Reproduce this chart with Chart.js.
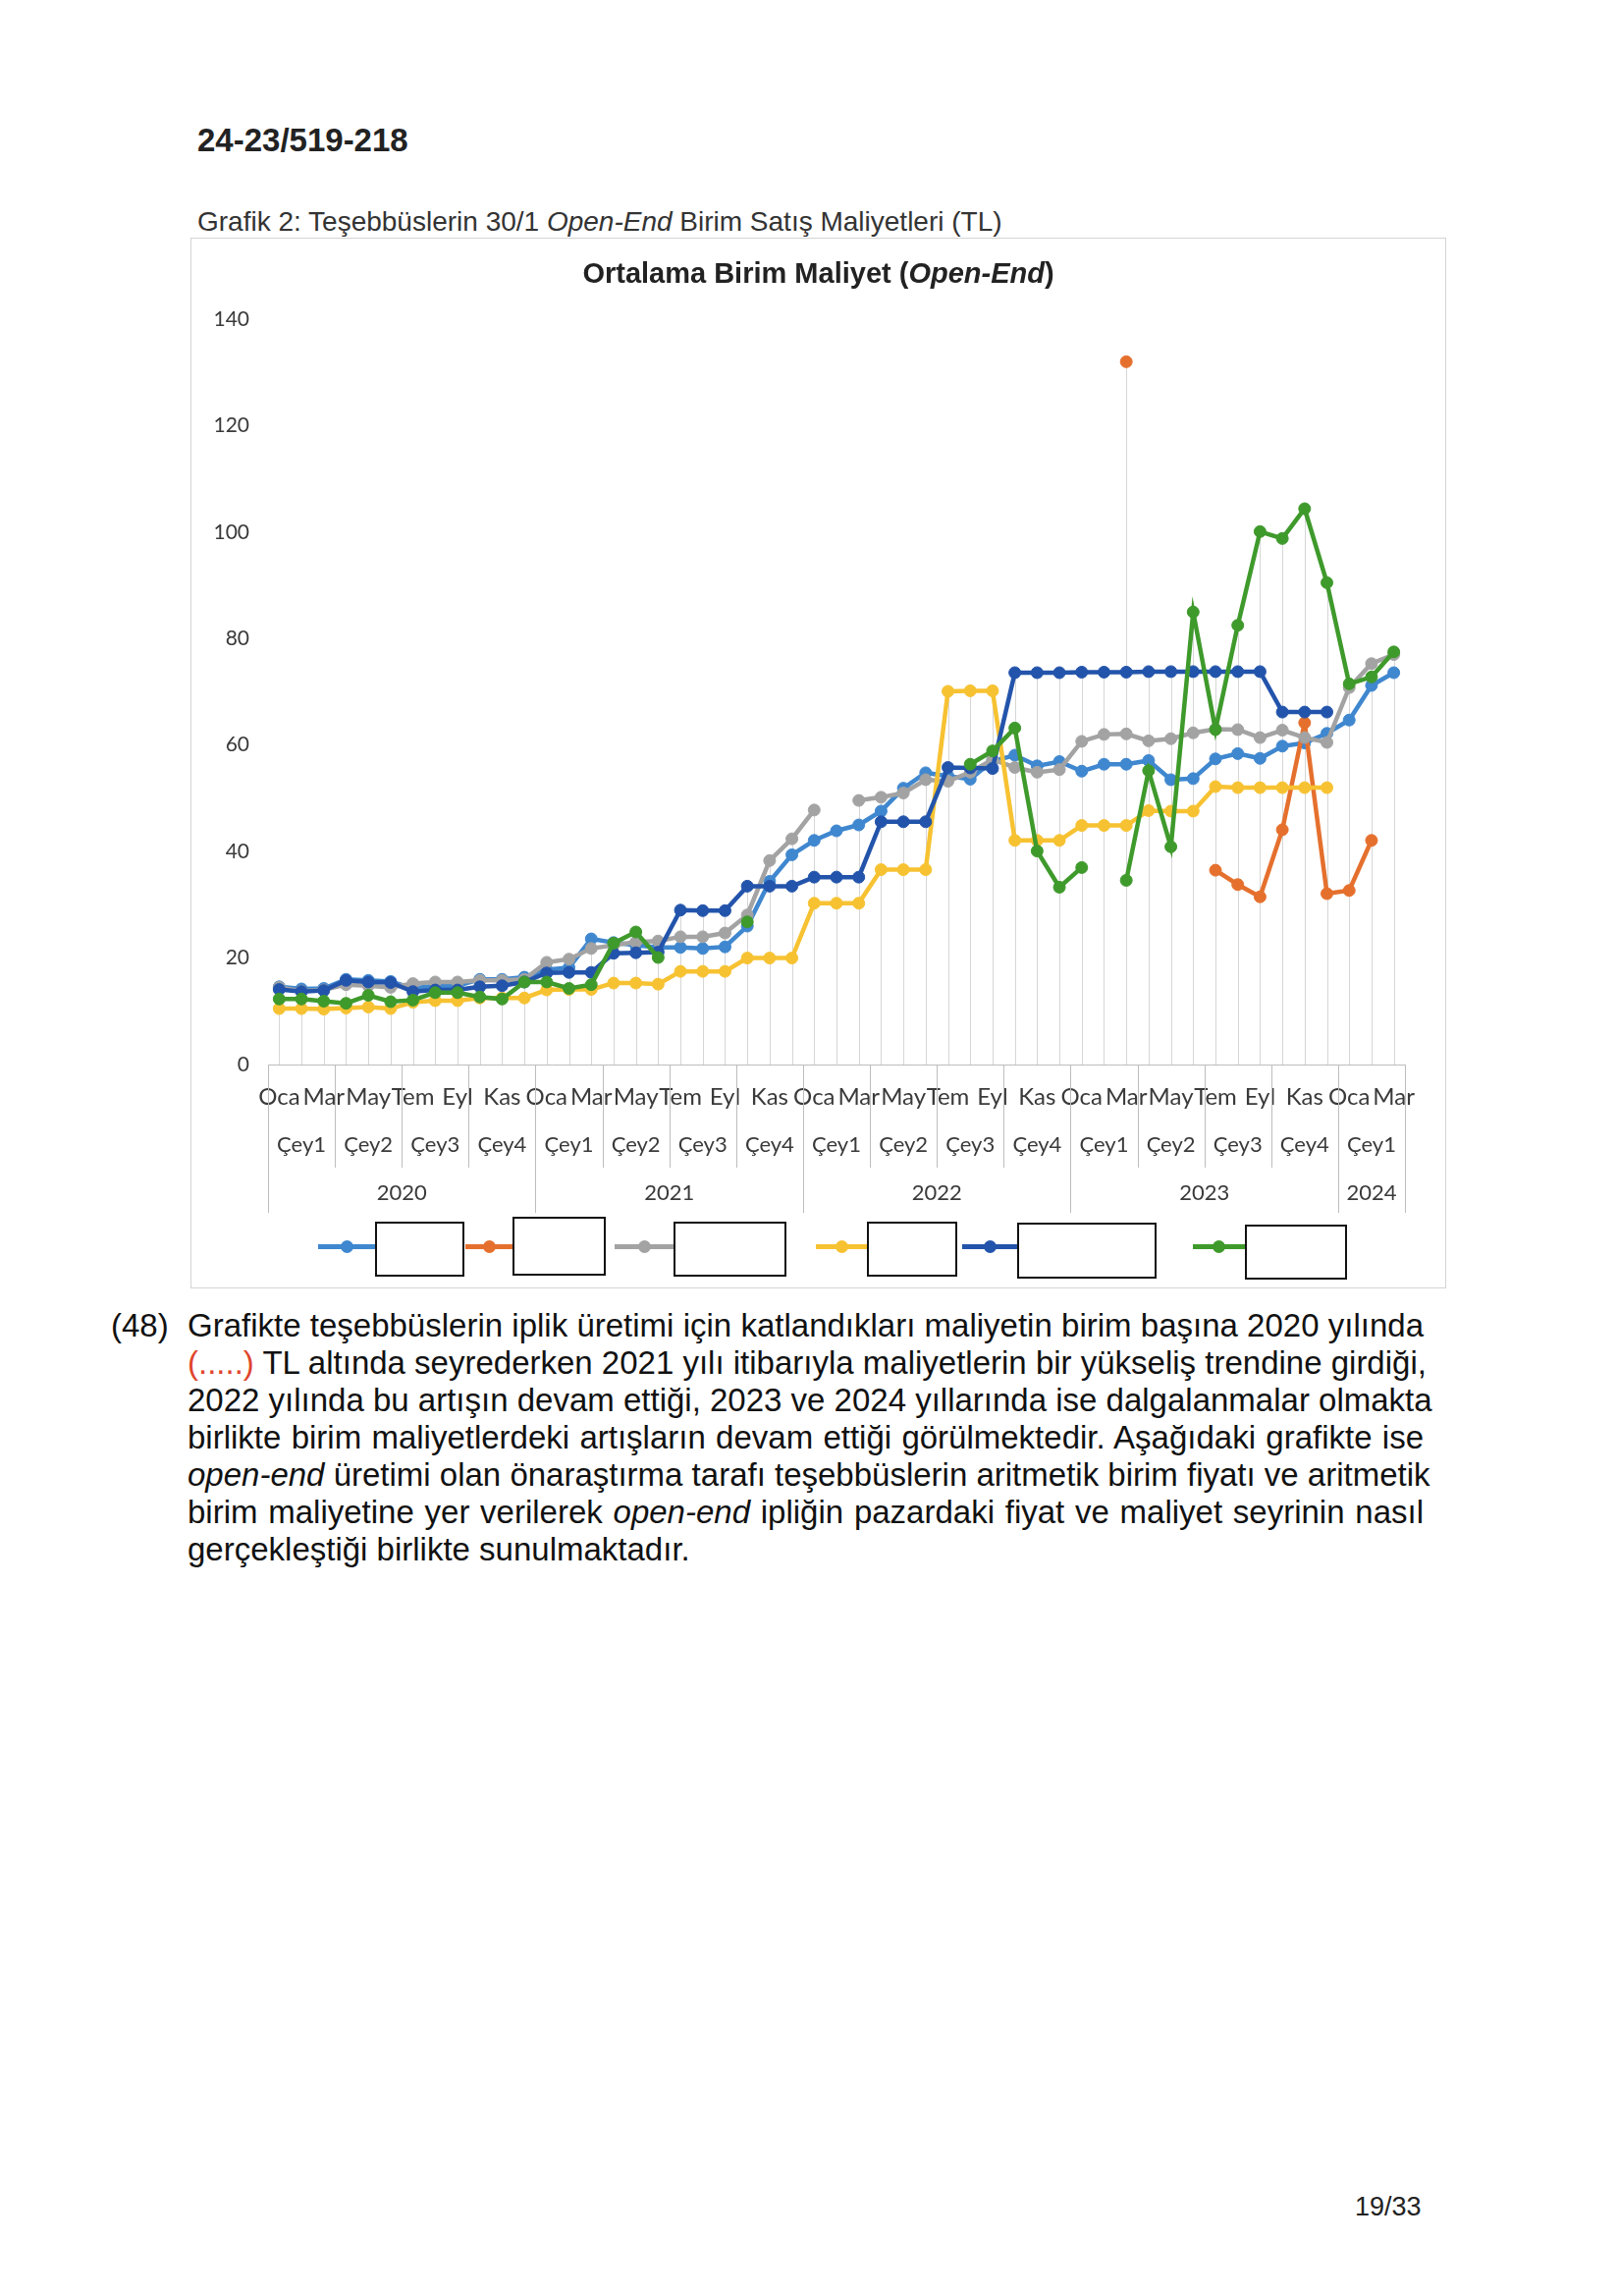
<!DOCTYPE html>
<html lang="tr">
<head>
<meta charset="utf-8">
<title>Ortalama Birim Maliyet (Open-End)</title>
<script src="https://cdn.jsdelivr.net/npm/chart.js@4.4.1/dist/chart.umd.min.js"></script>
<style>
    html, body { margin: 0; padding: 0; background: #fff; }
    body {
        width: 1648px; height: 2338px; position: relative; overflow: hidden;
        font-family: "Liberation Sans", Arial, sans-serif; color: #1a1a1a;
    }
    #docNo { position: absolute; left: 201px; top: 124px; font-size: 33px; font-weight: bold; color: #222; }
    #caption { position: absolute; left: 201px; top: 210px; font-size: 28px; color: #333; }
    #chartFrame {
        position: absolute; left: 194px; top: 242px; width: 1279px; height: 1070px;
        border: 1px solid #d4d4d4; box-sizing: border-box; pointer-events: none;
    }
    #chart { position: absolute; left: 194px; top: 242px; }
    #chartTitle {
        position: absolute; left: 194px; top: 262px; width: 1279px; text-align: center;
        font-size: 29px; font-weight: bold; color: #222;
    }
    .lg-line { position: absolute; height: 5px; }
    .lg-dot { position: absolute; width: 13px; height: 13px; border-radius: 50%; }
    .lg-box { position: absolute; border: 2px solid #111; background: #fff; box-sizing: border-box; }
    #para { position: absolute; left: 191px; top: 1331px; width: 1259px; font-size: 33px; line-height: 38px; color: #111; }
    #para div { white-space: nowrap; text-align: justify; text-align-last: justify; }
    #para div.last { text-align-last: left; }
    #paraNo { position: absolute; left: 113px; top: 1331px; font-size: 33px; line-height: 38px; color: #111; }
    .red { color: #e0452c; }
    #pageNo { position: absolute; left: 1380px; top: 2232px; font-size: 27px; color: #222; }
</style>
</head>
<body>
<div id="docNo">24-23/519-218</div>
<div id="caption">Grafik 2: Teşebbüslerin 30/1 <i>Open-End</i> Birim Satış Maliyetleri (TL)</div>
<canvas id="chart" width="1279" height="1070"></canvas>
<div id="chartFrame"></div>
<div id="chartTitle">Ortalama Birim Maliyet (<i>Open-End</i>)</div>
<div id="legend"></div>

<div id="paraNo">(48)</div>
<div id="para">
    <div>Grafikte teşebbüslerin iplik üretimi için katlandıkları maliyetin birim başına 2020 yılında</div>
    <div><span class="red">(.....)</span> TL altında seyrederken 2021 yılı itibarıyla maliyetlerin bir yükseliş trendine girdiği,</div>
    <div>2022 yılında bu artışın devam ettiği, 2023 ve 2024 yıllarında ise dalgalanmalar olmakta</div>
    <div>birlikte birim maliyetlerdeki artışların devam ettiği görülmektedir. Aşağıdaki grafikte ise</div>
    <div><i>open-end</i> üretimi olan önaraştırma tarafı teşebbüslerin aritmetik birim fiyatı ve aritmetik</div>
    <div>birim maliyetine yer verilerek <i>open-end</i> ipliğin pazardaki fiyat ve maliyet seyrinin nasıl</div>
    <div class="last">gerçekleştiği birlikte sunulmaktadır.</div>
</div>
<div id="pageNo">19/33</div>

<script>
// Categories: Ocak 2020 - Mart 2024
const monthNames = ['Oca', 'Şub', 'Mar', 'Nis', 'May', 'Haz', 'Tem', 'Ağu', 'Eyl', 'Eki', 'Kas', 'Ara'];
const quarterNames = ['Çey1', 'Çey2', 'Çey3', 'Çey4'];
const yearNames = ['2020', '2021', '2022', '2023', '2024'];
const monthCount = 51;

const yTicks = { min: 0, max: 140, step: 20 };

// Series (names are blanked out in the source legend)
const seriesNames = ['Teşebbüs 1', 'Teşebbüs 2', 'Teşebbüs 3', 'Teşebbüs 4', 'Teşebbüs 5', 'Teşebbüs 6'];

const series1 = [
    14.6, 14.2, 14.3, 16.0, 15.8, 15.6, 14.3, 14.8, 14.8, 16.0, 16.0, 16.4,
    17.8, 18.2, 23.6, 22.9, 22.4, 22.0, 22.0, 21.8, 22.1, 26.0, 34.4, 39.4,
    42.1, 43.9, 45.0, 47.6, 51.9, 54.8, 54.2, 53.6, 57.0, 58.1, 56.1, 56.9,
    55.1, 56.4, 56.4, 57.1, 53.5, 53.7, 57.4, 58.4, 57.5, 59.8, 60.4, 62.2,
    64.7, 71.2, 73.6
];
const series2 = [
    null, null, null, null, null, null, null, null, null, null, null, null,
    null, null, null, null, null, null, null, null, null, null, null, null,
    null, null, null, null, null, null, null, null, null, null, null, null,
    null, null, 132.0, null, null, null, 36.5, 33.8, 31.5, 44.1, 64.2, 32.1,
    32.7, 42.1, null
];
const series3 = [
    14.5, 13.8, 14.0, 15.0, 14.8, 14.5, 15.2, 15.5, 15.5, 15.8, 15.8, 16.0,
    19.2, 19.8, 21.8, 22.4, 23.0, 23.2, 24.0, 24.0, 24.7, 28.1, 38.3, 42.4,
    47.8, null, 49.6, 50.2, 51.0, 53.5, 53.2, 54.9, 57.3, 55.8, 54.9, 55.4,
    60.7, 62.0, 62.1, 60.8, 61.2, 62.3, 63.0, 62.9, 61.4, 62.8, 61.4, 60.5,
    70.8, 75.3, 77.0
];
const series4 = [
    10.5, 10.5, 10.4, 10.6, 10.8, 10.5, 11.7, 12.0, 12.0, 12.5, 12.5, 12.5,
    14.0, 14.1, 14.1, 15.3, 15.3, 15.1, 17.5, 17.5, 17.5, 20.0, 20.0, 20.0,
    30.3, 30.3, 30.3, 36.6, 36.6, 36.6, 70.1, 70.2, 70.2, 42.1, 42.1, 42.1,
    44.9, 44.9, 44.9, 47.7, 47.6, 47.6, 52.2, 52.0, 52.0, 52.0, 52.0, 52.0,
    null, null, null
];
const series5 = [
    14.1, 13.7, 13.9, 15.8, 15.5, 15.4, 13.7, 14.0, 14.0, 14.6, 14.8, 15.5,
    17.2, 17.3, 17.3, 20.9, 21.0, 21.1, 29.0, 28.9, 28.9, 33.5, 33.5, 33.5,
    35.2, 35.2, 35.2, 45.6, 45.6, 45.6, 55.8, 55.7, 55.6, 73.6, 73.6, 73.6,
    73.7, 73.7, 73.7, 73.8, 73.8, 73.8, 73.8, 73.8, 73.8, 66.2, 66.2, 66.2,
    null, null, null
];
const series6 = [
    12.3, 12.3, 11.9, 11.5, 13.0, 11.8, 12.1, 13.5, 13.5, 12.7, 12.3, 15.5,
    15.5, 14.3, 15.0, 22.8, 24.9, 20.1, null, null, null, 26.8, null, null,
    null, null, null, null, null, null, null, 56.4, 58.9, 63.2, 40.1, 33.3,
    37.0, null, 34.6, 55.2, 40.9, 85.0, 62.9, 82.5, 100.1, 98.8, 104.4, 90.5,
    71.5, 72.8, 77.5
];

const seriesColors = ['#3f87cf', '#e5702e', '#a3a3a3', '#f7c232', '#2354ab', '#3f9a2c'];

// legend geometry (page pixels): line start, line end, box left, box width, box top, box height
const legendLayout = [
    [324, 382, 382, 91, 1244, 56],
    [474, 522, 522, 95, 1239, 60],
    [626, 686, 686, 115, 1244, 56],
    [831, 883, 883, 92, 1244, 56],
    [980, 1036, 1036, 142, 1245, 57],
    [1215, 1268, 1268, 104, 1247, 56]
];
const legendY = 1269;

const labels = [];
for (let i = 0; i < monthCount; i++) {
    labels.push(monthNames[i % 12]);
}
const allSeries = [series1, series2, series3, series4, series5, series6];

/**
 * Excel style drop lines: from the highest point of each category down to the axis
 */
const dropLines = {
    id: 'dropLines',
    beforeDatasetsDraw(chart) {
        const { ctx, scales: { x, y } } = chart;
        ctx.save();
        ctx.strokeStyle = '#d6d6d6';
        ctx.lineWidth = 1;
        for (let i = 0; i < labels.length; i++) {
            const vals = chart.data.datasets.map(ds => ds.data[i]).filter(v => v !== null);
            if (!vals.length) continue;
            const px = Math.round(x.getPixelForValue(i)) + 0.5;
            ctx.beginPath();
            ctx.moveTo(px, y.getPixelForValue(Math.max(...vals)));
            ctx.lineTo(px, y.getPixelForValue(0));
            ctx.stroke();
        }
        ctx.restore();
    }
};

/**
 * Quarter and year rows of the multi level category axis
 */
const groupAxis = {
    id: 'groupAxis',
    afterDraw(chart) {
        const { ctx, scales: { x }, chartArea } = chart;
        const top = chartArea.bottom;
        const n = labels.length;
        const quarterCount = Math.ceil(n / 3);
        ctx.save();
        ctx.strokeStyle = '#bdbdbd';
        ctx.lineWidth = 1;
        for (let q = 0; q <= quarterCount; q++) {
            const start = Math.min(q * 3, n);
            const isYear = start % 12 === 0 || start === n;
            const px = Math.round(x.getPixelForValue(start - 0.5)) + 0.5;
            ctx.beginPath();
            ctx.moveTo(px, top);
            ctx.lineTo(px, top + (isYear ? 151 : 105));
            ctx.stroke();
        }
        ctx.fillStyle = '#3a3a3a';
        ctx.font = '22px Lato';
        ctx.textAlign = 'center';
        ctx.textBaseline = 'middle';
        for (let q = 0; q < quarterCount; q++) {
            const first = q * 3;
            const last = Math.min(first + 2, n - 1);
            ctx.fillText(quarterNames[q % 4], x.getPixelForValue((first + last) / 2), top + 82);
        }
        yearNames.forEach((yr, k) => {
            const first = k * 12;
            const last = Math.min(first + 11, n - 1);
            ctx.fillText(yr, x.getPixelForValue((first + last) / 2), top + 131);
        });
        ctx.restore();
    }
};

const chart = new Chart(document.getElementById('chart').getContext('2d'), {
    type: 'line',
    data: {
        labels: labels,
        datasets: allSeries.map((data, i) => ({
            label: seriesNames[i],
            data: data,
            borderColor: seriesColors[i],
            backgroundColor: seriesColors[i],
            pointBackgroundColor: seriesColors[i],
            pointBorderColor: seriesColors[i],
            borderWidth: 4.5,
            pointRadius: 6,
            pointBorderWidth: 1,
            tension: 0,
            fill: false,
            spanGaps: false,
            order: allSeries.length - i
        }))
    },
    options: {
        responsive: false,
        animation: false,
        layout: { padding: { top: 83, right: 42, left: 0, bottom: 0 } },
        plugins: {
            legend: { display: false },
            title: { display: false },
            tooltip: { mode: 'index', intersect: false }
        },
        scales: {
            x: {
                offset: true,
                grid: { display: false, drawTicks: false },
                border: { display: true, color: '#bdbdbd', width: 1 },
                ticks: {
                    autoSkip: false,
                    maxRotation: 0,
                    padding: 19,
                    color: '#3a3a3a',
                    font: { family: 'Lato', size: 24 },
                    callback: function(value, index) {
                        return index % 2 === 0 ? labels[index] : '';
                    }
                },
                afterFit: function(scale) { scale.height = 228; }
            },
            y: {
                min: yTicks.min,
                max: yTicks.max,
                grid: { display: false, drawTicks: false },
                border: { display: false },
                ticks: {
                    stepSize: yTicks.step,
                    padding: 19,
                    color: '#3a3a3a',
                    font: { family: 'Lato', size: 21 }
                },
                afterFit: function(scale) { scale.width = 79; }
            }
        }
    },
    plugins: [dropLines, groupAxis]
});

// legend: line samples with markers followed by the (blank) name boxes
const legendEl = document.getElementById('legend');
chart.data.datasets.forEach((ds, i) => {
    const [x1, x2, bx, bw, by, bh] = legendLayout[i];
    const line = document.createElement('div');
    line.className = 'lg-line';
    line.style.cssText = `left:${x1}px;width:${x2 - x1}px;top:${legendY - 2.5}px;background:${ds.borderColor};`;
    const dot = document.createElement('div');
    dot.className = 'lg-dot';
    dot.style.cssText = `left:${(x1 + x2) / 2 - 6.5}px;top:${legendY - 6.5}px;background:${ds.borderColor};`;
    const box = document.createElement('div');
    box.className = 'lg-box';
    box.style.cssText = `left:${bx}px;top:${by}px;width:${bw}px;height:${bh}px;`;
    legendEl.append(line, dot, box);
});
</script>
</body>
</html>
